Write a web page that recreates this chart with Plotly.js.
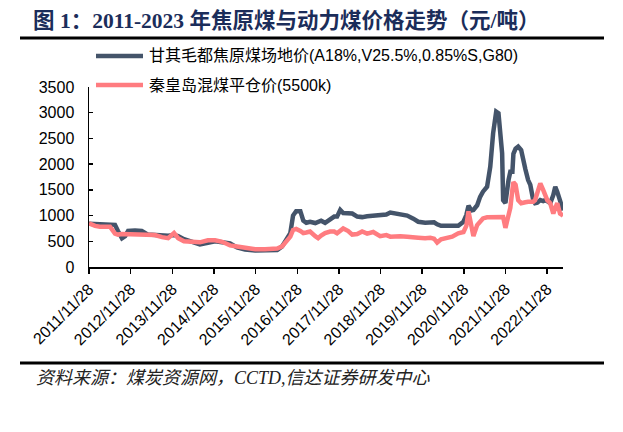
<!DOCTYPE html>
<html>
<head>
<meta charset="utf-8">
<script src="https://cdn.plot.ly/plotly-3.0.1.min.js"></script>
<style>html,body{margin:0;padding:0;background:#fff;}#chart{width:623px;height:432px;}</style>
</head>
<body>
<div id="chart"></div>
<script>
const dates = [
'2011-11-28','2012-01-20','2012-03-03','2012-04-15','2012-05-30','2012-07-13','2012-08-08','2012-09-12','2012-10-10','2012-11-05',
'2013-01-05','2013-03-05','2013-04-28','2013-06-28','2013-08-30','2013-10-22','2013-12-13','2014-01-18','2014-03-10','2014-05-20',
'2014-07-28','2014-10-06','2014-12-08','2015-02-08','2015-04-18','2015-06-18','2015-08-28','2015-11-25','2016-02-20','2016-06-05',
'2016-07-18','2016-08-22','2016-09-28','2016-10-22','2016-11-18','2016-12-25','2017-01-20','2017-02-15','2017-03-20','2017-05-05',
'2017-05-30','2017-06-25','2017-07-30','2017-09-12','2017-10-18','2017-11-12','2017-12-10','2018-01-05','2018-02-18','2018-03-25',
'2018-05-08','2018-06-20','2018-08-03','2018-09-25','2018-11-25','2019-01-18','2019-02-22','2019-04-05','2019-05-20','2019-07-20',
'2019-09-12','2019-10-25','2019-12-25','2020-02-08','2020-03-12','2020-04-08','2020-05-12','2020-06-28','2020-08-18','2020-10-10',
'2020-11-25','2020-12-20','2021-01-08','2021-02-02','2021-02-20','2021-03-25','2021-04-20','2021-05-15','2021-06-20','2021-07-18',
'2021-08-12','2021-09-08','2021-09-28','2021-10-12','2021-10-30','2021-11-08','2021-11-28','2021-12-25','2022-01-10','2022-01-28',
'2022-02-06','2022-02-25','2022-03-20','2022-04-15','2022-05-04','2022-05-22','2022-06-15','2022-07-04','2022-07-30','2022-08-15',
'2022-09-03','2022-09-30','2022-10-25','2022-11-12','2022-11-30','2022-12-26','2023-01-22','2023-02-08','2023-02-26','2023-03-22',
'2023-04-18'];

const cokingCoal = [
840,840,840,840,830,820,700,560,600,700,
710,700,630,620,600,610,620,600,540,480,
440,470,500,480,460,380,340,320,315,330,
400,520,660,1000,1085,1085,900,860,880,855,
870,900,860,920,980,980,1110,1050,1045,1040,
980,970,985,990,1010,1020,1060,1040,1010,1000,
940,880,860,860,870,830,800,800,800,800,
880,1010,1190,1100,1110,1200,1365,1465,1560,1950,
2600,3020,2990,2730,2210,1300,1245,1690,1850,1850,
2200,2300,2340,2275,2050,1900,1690,1600,1300,1240,
1250,1300,1280,1300,1280,1240,1400,1560,1460,1300,
1100];

const thermalCoal = [
850,800,785,785,785,650,630,640,640,640,
630,630,625,620,580,560,660,560,500,490,
480,520,520,490,420,400,370,345,345,360,
400,500,590,720,740,700,660,670,690,600,
560,610,660,690,690,655,720,750,700,630,
640,690,650,680,600,620,590,600,600,590,
590,570,560,570,550,475,540,560,590,655,
680,800,1080,800,600,815,880,945,965,965,
965,965,965,970,970,970,760,1000,1150,1500,
1650,1600,1300,1240,1240,1260,1270,1270,1270,1300,
1465,1625,1500,1400,1300,1240,1040,1150,1240,1040,
1000];

const tickDates = ['2011-11-28','2012-11-28','2013-11-28','2014-11-28','2015-11-28','2016-11-28',
'2017-11-28','2018-11-28','2019-11-28','2020-11-28','2021-11-28','2022-11-28'];
const tickLabels = ['2011/11/28','2012/11/28','2013/11/28','2014/11/28','2015/11/28','2016/11/28',
'2017/11/28','2018/11/28','2019/11/28','2020/11/28','2021/11/28','2022/11/28'];

const name1 = '甘其毛都焦原煤场地价(A18%,V25.5%,0.85%S,G80)';
const name2 = '秦皇岛混煤平仓价(5500k)';
const col1 = '#44546a';
const col2 = '#ff7c80';

const L = 89, R = 563, T = 87, B = 267;
const W = R - L, H = B - T;
const px = x => (x - L) / W;
const py = y => (B - y) / H;

const sansFont = 'Liberation Sans, Arial, Noto Sans CJK SC, sans-serif';

const traces = [
  {x: dates, y: cokingCoal, type: 'scatter', mode: 'lines', name: name1,
   line: {color: col1, width: 4.5}, showlegend: false},
  {x: dates, y: thermalCoal, type: 'scatter', mode: 'lines', name: name2,
   line: {color: col2, width: 4.5}, showlegend: false}
];

const layout = {
  width: 623, height: 432,
  margin: {l: L, r: 623 - R, t: T, b: 432 - B, pad: 0},
  paper_bgcolor: '#fff', plot_bgcolor: '#fff',
  title: {
    text: '图 1：2011-2023 年焦原煤与动力煤价格走势（元/吨）',
    xref: 'container', yref: 'container',
    x: 33 / 623, xanchor: 'left', y: 1 - 20 / 432, yanchor: 'middle',
    font: {family: 'Liberation Serif, Noto Sans CJK SC, serif', size: 21.5, color: '#1b2d5a', weight: 'bold'}
  },
  xaxis: {
    type: 'date', range: ['2011-11-28', '2023-04-17'],
    tickvals: tickDates, ticktext: tickLabels, tickangle: -45,
    ticks: 'outside', ticklen: 5, tickcolor: '#000', tickwidth: 1.5,
    showline: true, linecolor: '#000', linewidth: 1.5,
    showgrid: false, zeroline: false,
    tickfont: {family: sansFont, size: 16, color: '#000'}
  },
  yaxis: {
    range: [0, 3500], dtick: 500, tick0: 0,
    ticks: 'inside', ticklen: 4, tickcolor: '#000', tickwidth: 1.5,
    showline: true, linecolor: '#000', linewidth: 1.5,
    showgrid: false, zeroline: false,
    ticklabelstandoff: 10,
    tickfont: {family: sansFont, size: 16, color: '#000'}
  },
  shapes: [
    {type: 'line', xref: 'paper', yref: 'paper', x0: px(20), x1: px(604), y0: py(38), y1: py(38),
     line: {color: '#000', width: 3}},
    {type: 'line', xref: 'paper', yref: 'paper', x0: px(20), x1: px(604), y0: py(363), y1: py(363),
     line: {color: '#000', width: 3}},
    {type: 'line', xref: 'paper', yref: 'paper', x0: px(96), x1: px(143), y0: py(56), y1: py(56),
     line: {color: col1, width: 4.5}},
    {type: 'line', xref: 'paper', yref: 'paper', x0: px(96), x1: px(143), y0: py(85), y1: py(85),
     line: {color: col2, width: 4.5}}
  ],
  annotations: [
    {text: name1, xref: 'paper', yref: 'paper', x: px(147), y: py(56), xanchor: 'left', yanchor: 'middle',
     showarrow: false, font: {family: sansFont, size: 16, color: '#000'}},
    {text: name2, xref: 'paper', yref: 'paper', x: px(147), y: py(85), xanchor: 'left', yanchor: 'middle',
     showarrow: false, font: {family: sansFont, size: 16, color: '#000'}},
    {text: '资料来源：煤炭资源网，CCTD,信达证券研发中心', xref: 'paper', yref: 'paper', x: px(34), y: py(378),
     xanchor: 'left', yanchor: 'middle', showarrow: false,
     font: {family: 'Liberation Serif, Noto Sans CJK SC, serif', size: 18, color: '#222', style: 'italic'}}
  ]
};

Plotly.newPlot('chart', traces, layout, {displayModeBar: false, staticPlot: true});
</script>
</body>
</html>
